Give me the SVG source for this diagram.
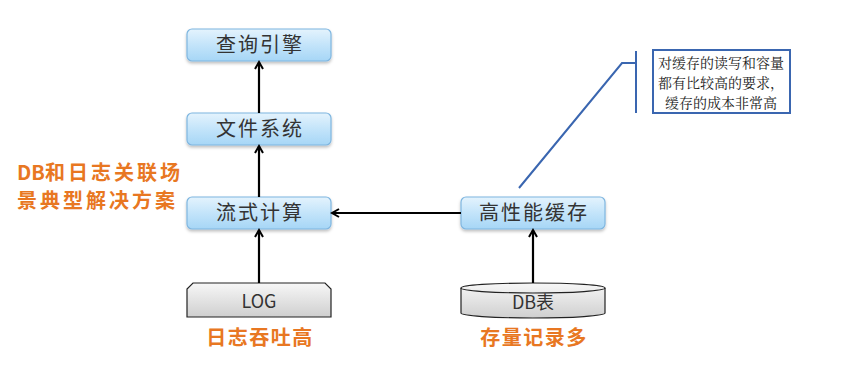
<svg xmlns="http://www.w3.org/2000/svg" width="858" height="377" viewBox="0 0 858 377">
<defs>
<linearGradient id="blue" x1="0" y1="0" x2="0" y2="1">
<stop offset="0" stop-color="#e4f3fd"/>
<stop offset="0.5" stop-color="#c3e4fa"/>
<stop offset="1" stop-color="#a6d6f6"/>
</linearGradient>
<linearGradient id="grey" x1="0" y1="0" x2="0" y2="1">
<stop offset="0" stop-color="#f7f7f7"/>
<stop offset="1" stop-color="#cfcfcf"/>
</linearGradient>
<marker id="arr" markerWidth="10" markerHeight="10" refX="8" refY="5" orient="auto" markerUnits="userSpaceOnUse">
<path d="M1,1 L8,5 L1,9" fill="none" stroke="#000" stroke-width="2"/>
</marker>
<filter id="sh" x="-10%" y="-20%" width="120%" height="150%">
<feDropShadow dx="0" dy="2" stdDeviation="1.5" flood-color="#000" flood-opacity="0.25"/>
</filter>
</defs>
<style>
.box{fill:url(#blue);stroke:#7fb6e0;stroke-width:1.2;filter:url(#sh)}
.grey{fill:url(#grey);stroke:#222;stroke-width:1.2}
.t{font-family:"Noto Sans CJK SC","Liberation Sans",sans-serif;font-size:20px;letter-spacing:2px;fill:#333;text-anchor:middle}
.o{font-family:"Noto Sans CJK SC","Liberation Sans",sans-serif;font-size:20px;letter-spacing:1.5px;font-weight:bold;fill:#e87722}
.c{font-family:"Noto Serif CJK SC","Noto Sans CJK SC",serif;font-size:14px;fill:#222;text-anchor:middle}
.ln{stroke:#000;stroke-width:2.2;fill:none;marker-end:url(#arr)}
</style>
<rect width="858" height="377" fill="#fff"/>
<g id="n-query"><rect class="box" x="187" y="29" width="144" height="32" rx="5"/><text class="t" x="260" y="52">查询引擎</text></g>
<g id="n-fs"><rect class="box" x="187" y="113" width="144" height="32" rx="5"/><text class="t" x="260" y="136">文件系统</text></g>
<g id="n-stream"><rect class="box" x="187" y="197" width="144" height="32" rx="5"/><text class="t" x="260" y="220">流式计算</text></g>
<g id="n-cache"><rect class="box" x="461" y="197" width="144" height="32" rx="5"/><text class="t" x="534" y="220">高性能缓存</text></g>
<g id="n-log"><path class="grey" d="M193,283 L325,283 L331,289 L331,317 L187,317 L187,289 Z"/><text class="t" x="259" y="308" style="font-size:18px;letter-spacing:0">LOG</text><text class="o" x="260" y="345" text-anchor="middle">日志吞吐高</text></g>
<g id="n-db"><path class="grey" d="M461,288 A72,5 0 0 1 605,288 L605,313 A72,5 0 0 1 461,313 Z"/><path d="M461,288 A72,5 0 0 0 605,288" fill="none" stroke="#222" stroke-width="1.2"/><text class="t" x="533" y="309" style="font-size:18px;letter-spacing:0">DB表</text><text class="o" x="534" y="345" text-anchor="middle">存量记录多</text></g>
<g id="n-title"><text class="o" x="17" y="180" style="letter-spacing:0"><tspan>DB</tspan><tspan style="letter-spacing:3px">和日志关联场</tspan></text><text class="o" x="17" y="208" style="letter-spacing:3px">景典型解决方案</text></g>
<g id="n-note"><rect x="653" y="50" width="137" height="63" fill="#fff" stroke="#3a66b0" stroke-width="2"/><text class="c" x="721" y="68">对缓存的读写和容量</text><text class="c" x="721" y="88">都有比较高的要求，</text><text class="c" x="721" y="108">缓存的成本非常高</text></g>
<g id="connectors">
<line class="ln" x1="259" y1="113" x2="259" y2="62"/>
<line class="ln" x1="259" y1="197" x2="259" y2="146"/>
<line class="ln" x1="259" y1="283" x2="259" y2="230"/>
<line class="ln" x1="533" y1="283" x2="533" y2="230"/>
<line class="ln" x1="461" y1="213" x2="332" y2="213"/>
<path d="M636,51 L636,113 M636,63 L622,63 L519,188" fill="none" stroke="#3a66b0" stroke-width="2"/>
</g>
</svg>
